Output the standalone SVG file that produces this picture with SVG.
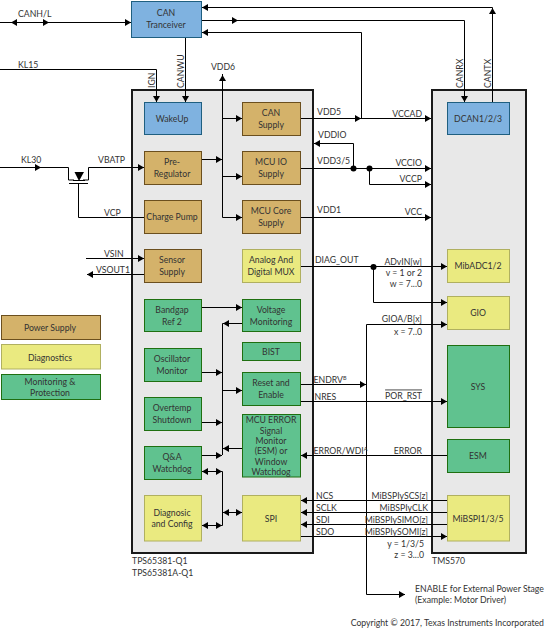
<svg xmlns="http://www.w3.org/2000/svg" width="545" height="628" viewBox="0 0 545 628">
<style>
text{font-family:Lato,"Open Sans","Liberation Sans",sans-serif;font-size:8.7px;fill:#333;text-anchor:middle}
.l{text-anchor:start}.r{text-anchor:end}
.chip{fill:#e8e8e8;stroke:#1a1a1a;stroke-width:2}
.blue{fill:#7fb2e0;stroke:#1f5f80;stroke-width:1}
.tan{fill:#d4b26a;stroke:#6b4f1e;stroke-width:1}
.yel{fill:#eaea80;stroke:#b0b060;stroke-width:1}
.grn{fill:#60c28f;stroke:#1f6f10;stroke-width:1}
.w{fill:none;stroke:#000;stroke-width:1}
.a{marker-end:url(#ah)}
</style>
<defs>
<marker id="ah" markerUnits="userSpaceOnUse" markerWidth="7" markerHeight="8" refX="6" refY="4" orient="auto"><path d="M0 .5L6 4L0 7.5Z" fill="#000"/></marker>
</defs>
<rect width="545" height="628" fill="#fff"/>
<g id="chips">
<rect class="chip" x="132" y="90" width="181" height="463"/>
<rect class="chip" x="432" y="90" width="94" height="463"/>
</g>
<g id="connectors" class="w">
<path d="M0 22.5H131"/><path class="a" d="M20 22.5H11"/><path class="a" d="M40 22.5H49"/><path class="a" d="M120 22.5H131"/>
<path d="M201 7.5H492.5V102"/><path class="a" d="M215 7.5H202"/><path class="a" d="M492.5 20V8"/>
<path d="M201 20.5H464.5V102"/><path class="a" d="M228 20.5H238"/><path class="a" d="M464.5 90V102"/>
<path d="M201 32.5H361.5V118"/><path class="a" d="M215 32.5H202"/>
<path d="M185.5 37V102"/><path class="a" d="M185.5 90V102"/>
<path d="M0 69.5H156.5V102"/><path class="a" d="M156.5 90V102"/>
<path d="M222.5 74V217.5H242"/><path class="a" d="M222.5 88V75"/>
<path d="M222.5 118.5H242"/><path class="a" d="M230 118.5H242"/>
<path d="M222.5 176.5H242"/><path class="a" d="M230 176.5H242"/>
<path class="a" d="M230 217.5H242"/>
<path d="M201 159.5H222"/><path class="a" d="M212 159.5H222"/>
<path d="M0 167.5H68.5V180H74"/><path class="a" d="M30 167.5H41"/>
<path d="M83 180H88.5V167.5H144"/><path class="a" d="M134 167.5H144"/>
<path d="M69 183.5H88"/>
<polygon points="74.5,172 84,172 79,181" fill="#000" stroke="none"/>
<path d="M73 180.5H85"/>
<path d="M78.5 183V217.5H144"/>
<path d="M86 258.5H144"/><path class="a" d="M134 258.5H144"/>
<path d="M144 274.5H87"/><path class="a" d="M100 274.5H87"/>
<path d="M300 118.5H431"/><path class="a" d="M352 118.5H361"/>
<path class="a" d="M422 118.5H431"/>
<path d="M300 168.5H431"/><path class="a" d="M422 168.5H431"/>
<path d="M353.5 168V143.5H314"/><path class="a" d="M325 143.5H314"/>
<path d="M369.5 168V184.5H431"/><path class="a" d="M422 184.5H431"/>
<circle cx="353.5" cy="168.5" r="3" fill="#000" stroke="none"/><circle cx="369.5" cy="168.5" r="3" fill="#000" stroke="none"/>
<path d="M300 217.5H431"/><path class="a" d="M422 217.5H431"/>
<path d="M300 266.5H447"/><path class="a" d="M437 266.5H447"/>
<path d="M373.5 266V302.5H447"/><path class="a" d="M437 302.5H447"/>
<circle cx="373.5" cy="267" r="3" fill="#000" stroke="none"/>
<path d="M201 307.5H242"/><path class="a" d="M232 307.5H242"/>
<path d="M242 323.5H222.5V455"/><path class="a" d="M232 323.5H223"/>
<path d="M201 372.5H222"/><path class="a" d="M212 372.5H222"/>
<path d="M222.5 390.5H242"/><path class="a" d="M232 390.5H242"/>
<path d="M201 422.5H222"/><path class="a" d="M212 422.5H222"/>
<path d="M242 448.5H223"/><path class="a" d="M232 448.5H223"/>
<path d="M201 455.5H222"/><path class="a" d="M212 455.5H222"/>
<path d="M201 471.5H222.5V525.5H201"/><path class="a" d="M210 471.5H202"/><path class="a" d="M214 471.5H222"/>
<path class="a" d="M210 525.5H202"/><path class="a" d="M214 525.5H222"/>
<path d="M222.5 512.5H242"/><path class="a" d="M232 512.5H223"/><path class="a" d="M233 512.5H242"/>
<path d="M300 384.5H366"/><path class="a" d="M356 384.5H366"/>
<path d="M447 324.5H366.5V594.5H405"/><path class="a" d="M437 324.5H447"/><path class="a" d="M395 594.5H405"/>
<path d="M300 401.5H447"/><path class="a" d="M437 401.5H447"/>
<path d="M447 455.5H301"/><path class="a" d="M311 455.5H301"/>
<path d="M447 500.5H301"/><path class="a" d="M311 500.5H301"/>
<path d="M447 512.5H301"/><path class="a" d="M311 512.5H301"/>
<path d="M447 524.5H301"/><path class="a" d="M311 524.5H301"/>
<path d="M300 536.5H447"/><path class="a" d="M437 536.5H447"/>
</g>
<g id="can-transceiver"><rect class="blue" x="131.5" y="1.5" width="70" height="36"/><text x="166" y="16">CAN</text><text x="166" y="27.5">Tranceiver</text></g>
<g id="wakeup"><rect class="blue" x="144.5" y="102.5" width="57" height="32"/><text x="172" y="121.500">WakeUp</text></g>
<g id="can-supply"><rect class="tan" x="242.5" y="102.5" width="58" height="33"/><text x="271" y="116">CAN</text><text x="271" y="127.5">Supply</text></g>
<g id="pre-regulator"><rect class="tan" x="144.5" y="151.5" width="57" height="33"/><text x="172" y="165">Pre-</text><text x="172" y="176.5">Regulator</text></g>
<g id="mcu-io-supply"><rect class="tan" x="242.5" y="151.5" width="58" height="33"/><text x="271" y="165">MCU IO</text><text x="271" y="176.5">Supply</text></g>
<g id="charge-pump"><rect class="tan" x="144.5" y="200.5" width="57" height="33"/><text x="172" y="220">Charge Pump</text></g>
<g id="mcu-core-supply"><rect class="tan" x="242.5" y="200.5" width="58" height="33"/><text x="271" y="214">MCU Core</text><text x="271" y="225.5">Supply</text></g>
<g id="sensor-supply"><rect class="tan" x="144.5" y="249.5" width="57" height="33"/><text x="172" y="263">Sensor</text><text x="172" y="275">Supply</text></g>
<g id="analog-mux"><rect class="yel" x="242.5" y="249.5" width="58" height="33"/><text x="271" y="263">Analog And</text><text x="271" y="275">Digital MUX</text></g>
<g id="bandgap"><rect class="grn" x="144.5" y="299.5" width="57" height="32"/><text x="172" y="313">Bandgap</text><text x="172" y="324.5">Ref 2</text></g>
<g id="voltage-monitoring"><rect class="grn" x="242.5" y="299.5" width="58" height="32"/><text x="271" y="313">Voltage</text><text x="271" y="324.5">Monitoring</text></g>
<g id="bist"><rect class="grn" x="242.5" y="342.5" width="58" height="18"/><text x="271" y="354.500">BIST</text></g>
<g id="oscillator-monitor"><rect class="grn" x="144.5" y="348.5" width="57" height="33"/><text x="172" y="362">Oscillator</text><text x="172" y="373.5">Monitor</text></g>
<g id="reset-enable"><rect class="grn" x="242.5" y="372.5" width="58" height="33"/><text x="271" y="386">Reset and</text><text x="271" y="398">Enable</text></g>
<g id="overtemp"><rect class="grn" x="144.5" y="397.5" width="57" height="33"/><text x="172" y="411">Overtemp</text><text x="172" y="422.5">Shutdown</text></g>
<g id="mcu-error"><rect class="grn" x="242.5" y="414.5" width="58" height="62.5"/><text x="271" y="422.500">MCU ERROR</text><text x="271" y="433.5">Signal</text><text x="271" y="444">Monitor</text><text x="271" y="454">(ESM)  or</text><text x="271" y="464.5">Window</text><text x="271" y="475">Watchdog</text></g>
<g id="qa-watchdog"><rect class="grn" x="144.5" y="446.5" width="57" height="33"/><text x="172" y="460">Q&amp;A</text><text x="172" y="471.5">Watchdog</text></g>
<g id="diagnosic-config"><rect class="yel" x="144.5" y="495.5" width="57" height="45.5"/><text x="172" y="516">Diagnosic</text><text x="172" y="527">and Config</text></g>
<g id="spi"><rect class="yel" x="242.5" y="495.5" width="58" height="45.5"/><text x="271" y="521.5">SPI</text></g>
<g id="dcan"><rect class="blue" x="447.5" y="102.5" width="62" height="32"/><text x="478" y="121.500">DCAN1/2/3</text></g>
<g id="mibadc"><rect class="yel" x="447.5" y="249.5" width="62" height="33"/><text x="478" y="269">MibADC1/2</text></g>
<g id="gio"><rect class="yel" x="447.5" y="296.5" width="62" height="33"/><text x="478" y="316">GIO</text></g>
<g id="sys"><rect class="grn" x="447.5" y="345.5" width="62" height="82"/><text x="478" y="389.5">SYS</text></g>
<g id="esm"><rect class="grn" x="447.5" y="439.5" width="62" height="33"/><text x="478" y="459">ESM</text></g>
<g id="mibspi"><rect class="yel" x="447.5" y="495.5" width="62" height="45.5"/><text x="478" y="521.5">MiBSPI1/3/5</text></g>
<g id="legend-power"><rect class="tan" x="1.5" y="315.5" width="99" height="24"/><text x="50" y="330.5">Power Supply</text></g>
<g id="legend-diagnostics"><rect class="yel" x="1.5" y="344.5" width="99" height="24.5"/><text x="50" y="360.5">Diagnostics</text></g>
<g id="legend-monitoring"><rect class="grn" x="1.5" y="374.5" width="99" height="25"/><text x="50" y="384.5">Monitoring &amp;</text><text x="50" y="395.5">Protection</text></g>
<g id="labels">
<text class="l" x="18" y="17">CANH/L</text>
<text class="l" x="18" y="68">KL15</text>
<text class="l" x="21" y="163">KL30</text>
<text class="l" x="98" y="163">VBATP</text>
<text class="l" x="104" y="216">VCP</text>
<text class="l" x="104" y="257">VSIN</text>
<text class="l" x="96" y="273">VSOUT1</text>
<text x="223" y="70">VDD6</text>
<text transform="translate(155 88) rotate(-90)" class="l">IGN</text>
<text transform="translate(184 88) rotate(-90)" class="l">CANWU</text>
<text transform="translate(463 88) rotate(-90)" class="l">CANRX</text>
<text transform="translate(491 88) rotate(-90)" class="l">CANTX</text>
<text class="l" x="317" y="115">VDD5</text>
<text class="r" x="422" y="117">VCCAD</text>
<text class="l" x="318" y="138">VDDIO</text>
<text class="l" x="317" y="164">VDD3/5</text>
<text class="r" x="422" y="166">VCCIO</text>
<text class="r" x="422" y="182">VCCP</text>
<text class="l" x="317" y="213">VDD1</text>
<text class="r" x="422" y="215">VCC</text>
<text class="l" x="315" y="263">DIAG_OUT</text>
<text class="r" x="422" y="265">ADvIN[w]</text>
<text class="r" x="422" y="276">v = 1 or 2</text>
<text class="r" x="422" y="287">w = 7...0</text>
<text class="r" x="422" y="322">GIOA/B[x]</text>
<text class="r" x="422" y="335">x = 7..0</text>
<text class="l" x="313.5" y="383">ENDRV<tspan font-size="5.5" dy="-3">B</tspan></text>
<text class="l" x="314.5" y="400">NRES</text>
<text class="r" x="422" y="398.5" style="text-decoration:overline">POR_RST</text>
<text class="l" x="313.5" y="454">ERROR/WDI<tspan font-size="5.5" dy="-3">A</tspan></text>
<text class="r" x="422" y="454">ERROR</text>
<text class="l" x="316" y="499">NCS</text>
<text class="l" x="316" y="511">SCLK</text>
<text class="l" x="316" y="523">SDI</text>
<text class="l" x="316" y="535">SDO</text>
<text class="r" x="428" y="499">MiBSPIySCS[z]</text>
<text class="r" x="428" y="511">MiBSPIyCLK</text>
<text class="r" x="428" y="523">MiBSPIySIMO[z]</text>
<text class="r" x="428" y="535">MiBSPIySOMI[z]</text>
<text class="r" x="424" y="547">y = 1/3/5</text>
<text class="r" x="424" y="558">z = 3...0</text>
<text class="l" x="132" y="564">TPS65381-Q1</text>
<text class="l" x="132" y="576">TPS65381A-Q1</text>
<text class="l" x="432" y="564">TMS570</text>
<text class="l" x="415" y="592">ENABLE for External Power Stage</text>
<text class="l" x="415" y="603">(Example: Motor Driver)</text>
<text class="r" x="544" y="626">Copyright © 2017, Texas Instruments Incorporated</text>
</g>
</svg>
